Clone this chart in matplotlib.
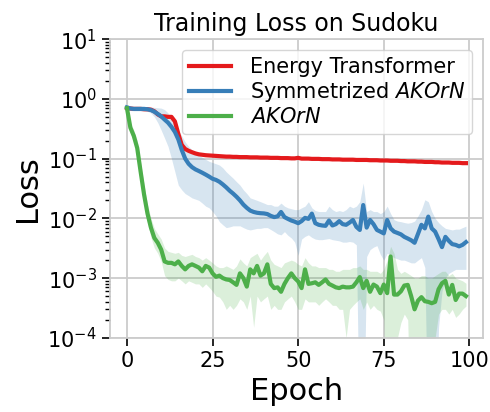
import matplotlib
matplotlib.use("Agg")
import matplotlib.pyplot as plt
import numpy as np

epochs = np.arange(100)

energy_mean = [
    0.70, 0.69, 0.68, 0.68, 0.68, 0.67, 0.67, 0.66, 0.62, 0.55,
    0.51, 0.51, 0.50, 0.50, 0.42, 0.26, 0.17, 0.145, 0.135, 0.128,
    0.122, 0.118, 0.116, 0.114, 0.113, 0.112, 0.111, 0.110, 0.109, 0.108,
    0.108, 0.107, 0.107, 0.106, 0.106, 0.106, 0.105, 0.105, 0.105, 0.104,
    0.104, 0.104, 0.103, 0.103, 0.103, 0.102, 0.102, 0.102, 0.101, 0.101,
    0.103, 0.100, 0.100, 0.100, 0.099, 0.099, 0.099, 0.098, 0.098, 0.098,
    0.097, 0.097, 0.097, 0.096, 0.096, 0.096, 0.096, 0.095, 0.095, 0.095,
    0.095, 0.094, 0.094, 0.094, 0.093, 0.093, 0.093, 0.092, 0.092, 0.092,
    0.091, 0.091, 0.090, 0.090, 0.090, 0.089, 0.089, 0.088, 0.088, 0.088,
    0.087, 0.087, 0.086, 0.086, 0.086, 0.085, 0.085, 0.085, 0.084, 0.084,
]

sym_mean = [
    0.72, 0.69, 0.68, 0.68, 0.68, 0.68, 0.67, 0.65, 0.61, 0.56,
    0.51, 0.45, 0.40, 0.34, 0.28, 0.21, 0.14, 0.10, 0.082, 0.072,
    0.066, 0.062, 0.058, 0.054, 0.050, 0.046, 0.044, 0.041, 0.037, 0.033,
    0.029, 0.026, 0.023, 0.020, 0.017, 0.015, 0.0135, 0.0128, 0.0124, 0.0122,
    0.0121, 0.0118, 0.0110, 0.0105, 0.0108, 0.0128, 0.0105, 0.0098, 0.0092, 0.0088,
    0.0083, 0.0090, 0.0102, 0.0098, 0.0120, 0.0083, 0.0078, 0.0076, 0.0075, 0.0092,
    0.0076, 0.0080, 0.0090, 0.0080, 0.0078, 0.0085, 0.0094, 0.0072, 0.0064, 0.0167,
    0.0070, 0.0094, 0.0080, 0.0064, 0.0060, 0.0056, 0.0094, 0.0068, 0.0060, 0.0057,
    0.0054, 0.0049, 0.0046, 0.0043, 0.0039, 0.0055, 0.0078, 0.0068, 0.0107, 0.0068,
    0.0060, 0.0045, 0.0033, 0.0049, 0.0042, 0.0037, 0.0036, 0.0034, 0.0036, 0.0040,
]
sym_upper = [
    0.76, 0.74, 0.73, 0.73, 0.73, 0.73, 0.73, 0.73, 0.72, 0.71,
    0.70, 0.66, 0.58, 0.48, 0.38, 0.30, 0.24, 0.19, 0.16, 0.14,
    0.125, 0.115, 0.105, 0.097, 0.090, 0.086, 0.082, 0.078, 0.070, 0.060,
    0.053, 0.047, 0.041, 0.036, 0.030, 0.026, 0.022, 0.021, 0.020, 0.019,
    0.018, 0.017, 0.017, 0.016, 0.016, 0.018, 0.016, 0.015, 0.0145, 0.014,
    0.014, 0.015, 0.016, 0.019, 0.015, 0.0135, 0.013, 0.013, 0.013, 0.016,
    0.014, 0.013, 0.0135, 0.013, 0.014, 0.016, 0.015, 0.016, 0.019, 0.039,
    0.013, 0.014, 0.013, 0.013, 0.012, 0.013, 0.016, 0.012, 0.0095, 0.009,
    0.0088, 0.0085, 0.0083, 0.0085, 0.009, 0.011, 0.014, 0.0205, 0.019, 0.013,
    0.010, 0.0085, 0.0075, 0.0068, 0.0066, 0.0064, 0.0066, 0.0066, 0.0070, 0.0074,
]
sym_lower = [
    0.68, 0.64, 0.63, 0.63, 0.63, 0.63, 0.62, 0.58, 0.50, 0.40,
    0.30, 0.22, 0.16, 0.10, 0.060, 0.036, 0.030, 0.026, 0.024, 0.022,
    0.021, 0.020, 0.018, 0.016, 0.015, 0.013, 0.011, 0.0088, 0.0078, 0.0070,
    0.0072, 0.0075, 0.0075, 0.0075, 0.0070, 0.0066, 0.0064, 0.0066, 0.0068, 0.0068,
    0.0070, 0.0070, 0.0065, 0.0060, 0.0055, 0.0053, 0.0060, 0.0052, 0.0047, 0.0040,
    0.0024, 0.0045, 0.0050, 0.0053, 0.0048, 0.0045, 0.0044, 0.0044, 0.0045, 0.0046,
    0.0044, 0.0043, 0.0042, 0.0040, 0.0040, 0.0041, 0.0040, 0.0036, 1e-6, 1e-6,
    0.0023, 0.0030, 0.0033, 0.0035, 0.0025, 0.0020, 0.0026, 0.0024, 0.0022, 0.0021,
    0.0020, 0.0020, 0.0019, 0.0018, 0.0018, 0.0020, 0.0022, 0.0015, 1e-6, 1e-6,
    1e-6, 0.00015, 0.0006, 0.0010, 0.0012, 0.0013, 0.0014, 0.0014, 0.0014, 0.0014,
]

akorn_mean = [
    0.70, 0.33, 0.24, 0.15, 0.060, 0.025, 0.012, 0.0070, 0.0047, 0.0039,
    0.0030, 0.0019, 0.0018, 0.0018, 0.0017, 0.0019, 0.0016, 0.0014, 0.0016, 0.0017,
    0.0016, 0.0015, 0.0013, 0.0016, 0.0015, 0.0012, 0.00105, 0.0011, 0.0010, 0.00095,
    0.00093, 0.00085, 0.00077, 0.0012, 0.0010, 0.00072, 0.0014, 0.0012, 0.0016, 0.0011,
    0.0012, 0.0017, 0.0008, 0.00068, 0.0007, 0.00059, 0.0008, 0.0010, 0.0012, 0.0010,
    0.00088, 0.00068, 0.0014, 0.00080, 0.00082, 0.00085, 0.00077, 0.00085, 0.00095, 0.00080,
    0.00075, 0.00070, 0.00068, 0.00072, 0.00070, 0.00070, 0.00072, 0.00085, 0.00104, 0.00068,
    0.00090, 0.00059, 0.00078, 0.00072, 0.00056, 0.00078, 0.00056, 0.0023, 0.00053, 0.00053,
    0.00060, 0.00075, 0.00077, 0.00050, 0.00030, 0.00042, 0.00048, 0.00041, 0.00040, 0.00038,
    0.00040, 0.00065, 0.00082, 0.00090, 0.00053, 0.00077, 0.00043, 0.00055, 0.00055, 0.00050,
]
akorn_upper = [
    0.72, 0.40, 0.30, 0.20, 0.085, 0.036, 0.017, 0.0100, 0.0068, 0.0055,
    0.0045, 0.0032, 0.0028, 0.0027, 0.0026, 0.0027, 0.0024, 0.0023, 0.0024, 0.0025,
    0.0023, 0.0022, 0.0020, 0.0022, 0.0020, 0.0018, 0.0016, 0.0015, 0.0015, 0.0016,
    0.0015, 0.0014, 0.0016, 0.0021, 0.0018, 0.0016, 0.0022, 0.0024, 0.0026, 0.0020,
    0.0024, 0.0028, 0.0020, 0.0017, 0.0016, 0.0015, 0.0018, 0.0019, 0.0020, 0.0019,
    0.0017, 0.0016, 0.0022, 0.0018, 0.0016, 0.0016, 0.0015, 0.0015, 0.0015, 0.0014,
    0.0014, 0.0013, 0.0013, 0.0014, 0.0014, 0.0014, 0.0015, 0.0015, 0.0016, 0.0014,
    0.0014, 0.0013, 0.0013, 0.0013, 0.0012, 0.0014, 0.0020, 0.0034, 0.0026, 0.0014,
    0.0012, 0.0013, 0.0012, 0.0011, 0.0010, 0.0010, 0.0011, 0.0011, 0.0010, 0.0010,
    0.0011, 0.0012, 0.0013, 0.0013, 0.0011, 0.0012, 0.0010, 0.00095, 0.0009, 0.00082,
]
akorn_lower = [
    0.66, 0.26, 0.19, 0.12, 0.042, 0.017, 0.0085, 0.0048, 0.0032, 0.0026,
    0.0019, 0.0011, 0.00095, 0.0009, 0.0009, 0.0010, 0.0009, 0.0008, 0.0009, 0.00085,
    0.0008, 0.0008, 0.0007, 0.0008, 0.0007, 0.0006, 0.0005, 0.00048, 0.0004, 0.0003,
    0.00035, 0.0003, 0.00035, 0.00045, 0.0004, 0.0003, 0.0005, 0.00015, 0.0005, 0.0004,
    0.00045, 0.0005, 0.0003, 0.00035, 0.0003, 0.0003, 0.0004, 0.00045, 0.0005, 0.0004,
    0.0003, 0.0003, 0.00045, 0.0004, 0.0004, 0.0004, 0.00035, 0.0004, 0.00045, 0.0004,
    0.00035, 0.00035, 0.0003, 0.0003, 0.0001, 0.0003, 0.00035, 0.0004, 0.00045, 0.0003,
    0.0004, 0.0003, 0.00035, 0.0003, 0.00028, 0.0002, 1e-6, 1e-6, 1e-6, 0.0001,
    0.00018, 0.00025, 0.0002, 1e-6, 1e-6, 1e-6, 1e-6, 1e-6, 1e-6, 1e-6,
    0.0001, 0.00025, 0.0003, 0.0003, 0.00025, 0.0003, 0.00022, 0.00025, 0.0003, 0.00034,
]

red = "#e41a1c"
blue = "#377eb8"
green = "#4daf4a"

fig = plt.figure(figsize=(4.9, 4.12), dpi=100)
ax = fig.add_axes([0.2245, 0.18, 0.761, 0.725])

ax.fill_between(epochs, sym_lower, sym_upper, color=blue, alpha=0.2, linewidth=0)
ax.fill_between(epochs, akorn_lower, akorn_upper, color=green, alpha=0.2, linewidth=0)

ax.plot(epochs, energy_mean, color=red, lw=3, label="Energy Transformer")
ax.plot(epochs, sym_mean, color=blue, lw=3, label="Symmetrized $\\it{AKOrN}$")
ax.plot(epochs, akorn_mean, color=green, lw=3, label="$\\it{AKOrN}$")

ax.set_yscale("log")
ax.set_ylim(1e-4, 10)
ax.set_xticks([0, 25, 50, 75, 100])
ax.grid(True, which="major", color="#cccccc", lw=1.3)
ax.set_axisbelow(True)
for s in ax.spines.values():
    s.set_color("#cccccc")
    s.set_linewidth(1.3)
ax.tick_params(axis="both", which="major", labelsize=15, length=6, width=1.2, color="black")
ax.tick_params(axis="y", which="minor", length=3.5, width=1, color="black")

ax.set_title("Training Loss on Sudoku", fontsize=17)
ax.set_xlabel("Epoch", fontsize=22)
ax.set_ylabel("Loss", fontsize=22)

ax.legend(loc="upper right", fontsize=15, framealpha=0.8, edgecolor="#cccccc",
          handlelength=2.0, borderaxespad=0.5, labelspacing=0.15, borderpad=0.35,
          handletextpad=0.9)

fig.savefig("out.png", dpi=100)
